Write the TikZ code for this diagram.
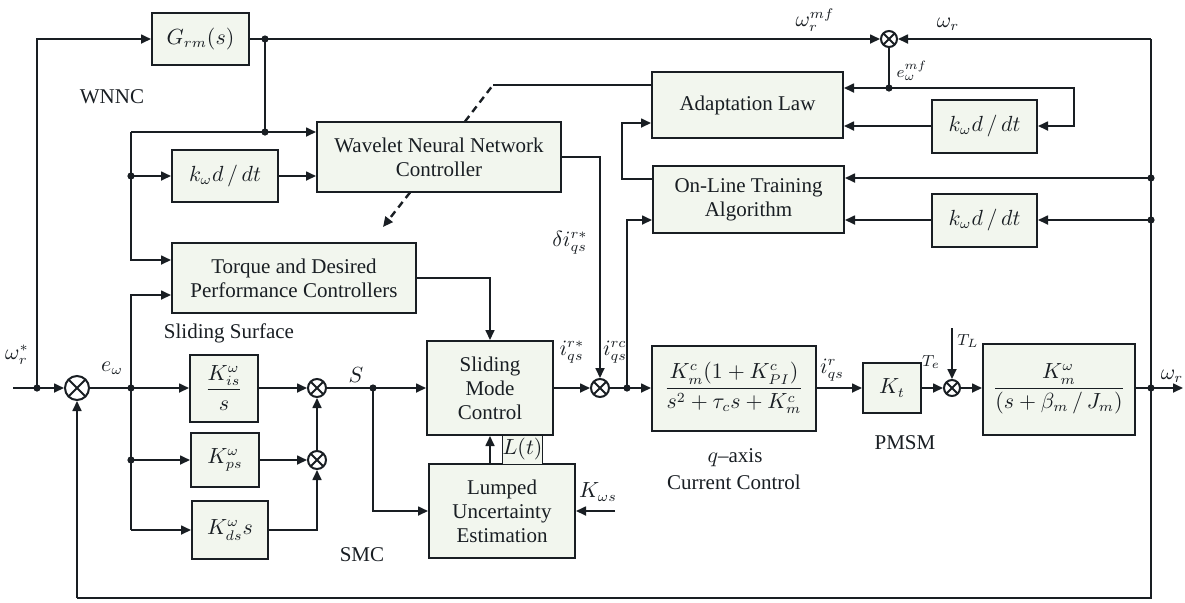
\documentclass[tikz,border=0pt]{standalone}
\usepackage{amsmath}
\usepackage{fontspec}
\setmainfont{Liberation Serif}
\usetikzlibrary{arrows.meta}
\definecolor{boxfill}{RGB}{242,246,238}
\definecolor{ink}{RGB}{25,30,35}
\begin{document}
\begin{tikzpicture}[x=0.5pt,y=-0.5pt, line join=miter,
  every node/.style={font=\fontsize{10.5}{12}\selectfont, text=ink},
  blk/.style={draw=ink, fill=boxfill, line width=1pt, inner sep=0pt, align=center},
  sumc/.style={circle, draw=ink, fill=white, line width=1pt, inner sep=0pt, minimum size=9pt,
    path picture={\draw[ink, line width=0.9pt] (path picture bounding box.north west) -- (path picture bounding box.south east)
      (path picture bounding box.north east) -- (path picture bounding box.south west);}},
  conn/.style={draw=ink, line width=0.85pt},
  arr/.style={conn, -{Triangle[length=5pt,width=4.5pt]}},
  dashln/.style={line width=1.2pt, dash pattern=on 3.5pt off 2.5pt},
  dot/.style={circle, fill=ink, inner sep=0pt, minimum size=3.6pt},
  lbl/.style={inner sep=0pt},
  small/.style={inner sep=0pt, font=\fontsize{8}{9}\selectfont}
]
\useasboundingbox (0,0) rectangle (1185,602);

% blocks
\node[blk, minimum width=48.5pt, minimum height=26pt] (grm) at (200.5,39) {$G_{rm}(s)$};
\node[blk, minimum width=122pt, minimum height=35pt] (wnn) at (439,157) {Wavelet Neural Network\\Controller};
\node[blk, minimum width=53pt, minimum height=26pt] (kd1) at (225,176) {$k_\omega d\,/\,dt$};
\node[blk, minimum width=122pt, minimum height=35pt] (tq) at (294,278) {Torque and Desired\\Performance Controllers};
\node[blk, minimum width=95.5pt, minimum height=33pt] (adp) at (747.5,105) {Adaptation Law};
\node[blk, minimum width=52.5pt, minimum height=26.5pt] (kd2) at (984.5,126) {$k_\omega d\,/\,dt$};
\node[blk, minimum width=95.5pt, minimum height=33.5pt] (olt) at (748.5,199.5) {On-Line Training\\Algorithm};
\node[blk, minimum width=52.5pt, minimum height=26.5pt] (kd3) at (984.5,220) {$k_\omega d\,/\,dt$};
\node[blk, minimum width=34pt, minimum height=33.5pt] (kis) at (224,388) {$\dfrac{K_{is}^{\omega}}{s}$};
\node[blk, minimum width=34pt, minimum height=27pt] (kps) at (225,460) {$K_{ps}^{\omega}$};
\node[blk, minimum width=38pt, minimum height=29pt] (kds) at (230,530) {$K_{ds}^{\omega}s$};
\node[blk, minimum width=63pt, minimum height=47pt] (smc) at (490,388) {Sliding\\Mode\\Control};
\node[blk, minimum width=73pt, minimum height=47pt] (lue) at (502,511) {Lumped\\Uncertainty\\Estimation};
\node[draw=ink, fill=boxfill, line width=0.5pt, inner sep=0pt, minimum width=17.5pt, minimum height=14.5pt] (lt) at (522.5,449.5) {$L(t)$};
\node[blk, minimum width=82pt, minimum height=42.5pt] (cur) at (734,388) {$\dfrac{K_m^c(1+K_{PI}^c)}{s^2+\tau_c s+K_m^c}$};
\node[blk, minimum width=29pt, minimum height=25pt] (kt) at (892,388) {$K_t$};
\node[blk, minimum width=76pt, minimum height=45.5pt] (pl) at (1059,389) {$\dfrac{K_m^{\omega}}{(s+\beta_m\,/\,J_m)}$};

% summing junctions
\node[sumc, minimum size=12pt] (s0) at (77,388) {};
\node[sumc] (s1) at (317,388) {};
\node[sumc] (s2) at (317,460) {};
\node[sumc] (s3) at (600,388) {};
\node[sumc, minimum size=8pt] (s4) at (952,388) {};
\node[sumc, minimum size=8pt] (st) at (889,39) {};

% junction dots
\node[dot] (jg) at (265,39) {};
\node[dot] (jw) at (265,132) {};
\node[dot] (jk) at (131,176) {};
\node[dot] (d0) at (37,388) {};
\node[dot] (de) at (131,388) {};
\node[dot] (dp) at (131,460) {};
\node[dot] (dS) at (373,388) {};
\node[dot] (dI) at (627,388) {};
\node[dot] (dE) at (889,88) {};
\node[dot] (d1) at (1151,178) {};
\node[dot] (d2) at (1151,220) {};
\node[dot] (dO) at (1151,388) {};

% helper coordinates
\coordinate (in0) at (13,388);
\coordinate (tl) at (131,132);
\coordinate (tt) at (131,260);
\coordinate (tb) at (131,295);
\coordinate (dd) at (131,530);
\coordinate (sl) at (373,511);
\coordinate (kw) at (615,511);
\coordinate (ol) at (627,220);
\coordinate (oa) at (622,179);
\coordinate (ob) at (622,123);
\coordinate (ds1) at (465,121.5);
\coordinate (ds2) at (493,85);
\coordinate (dw1) at (410,192.5);
\coordinate (dw2) at (383,227);
\coordinate (tr) at (1151,39);
\coordinate (br) at (1151,598);
\coordinate (bl) at (77,598);
\coordinate (er) at (1074,88);
\coordinate (er2) at (1074,126);
\coordinate (tlz) at (952,328);
\coordinate (out) at (1183,388);

% connectors
\draw[arr] (in0) -- (s0.west);
\draw[arr] (d0.center) |- (grm.west);
\draw[arr] (grm.east) -- (st.west);
\draw[conn] (jg.center) -- (jw.center);
\draw[arr] (tl) -- (tl -| wnn.west);
\draw[arr] (tl) -- (tt) -- (tt -| tq.west);
\draw[arr] (jk.center) -- (kd1.west);
\draw[arr] (kd1.east) -- (kd1.east -| wnn.west);
\draw[conn] (s0.east) -- (de.center);
\draw[arr] (de.center) -- (kis.west);
\draw[arr] (de.center) -- (tb) -- (tb -| tq.west);
\draw[conn] (de.center) -- (dd);
\draw[arr] (dd) -- (dd -| kds.west);
\draw[arr] (dp.center) -- (kps.west);
\draw[arr] (kis.east) -- (s1.west);
\draw[arr] (kps.east) -- (s2.west);
\draw[arr] (kds.east) -| (s2.south);
\draw[arr] (s2.north) -- (s1.south);
\draw[conn] (s1.east) -- (dS.center);
\draw[arr] (dS.center) -- (smc.west);
\draw[arr] (dS.center) -- (sl) -- (lue.west);
\draw[arr] (smc.south |- lue.north) -- (smc.south);
\draw[arr] (kw) -- (lue.east);
\draw[arr] (tq.east) -| (smc.north);
\draw[arr] (smc.east) -- (s3.west);
\draw[arr] (wnn.east) -| (s3.north);
\draw[conn] (s3.east) -- (dI.center);
\draw[arr] (dI.center) -- (cur.west);
\draw[arr] (dI.center) -- (ol) -- (ol -| olt.west);
\draw[arr] (oa -| olt.west) -- (oa) -- (ob) -- (ob -| adp.west);
\draw[conn, dashln] (ds1) -- (ds2);
\draw[conn] (ds2) -- (ds2 -| adp.west);
\draw[arr, dashln] (dw1) -- (dw2);
\draw[arr] (tr) -- (st.east);
\draw[conn] (st.south) -- (dE.center);
\draw[arr] (dE.center) -- (dE.center -| adp.east);
\draw[arr] (dE.center) -- (er) -- (er2) -- (kd2.east);
\draw[arr] (kd2.west) -- (kd2.west -| adp.east);
\draw[conn] (tr) -- (br) -- (bl);
\draw[arr] (bl) -- (s0.south);
\draw[arr] (d1.center) -- (d1.center -| olt.east);
\draw[arr] (d2.center) -- (kd3.east);
\draw[arr] (kd3.west) -- (kd3.west -| olt.east);
\draw[arr] (cur.east) -- (kt.west);
\draw[arr] (kt.east) -- (s4.west);
\draw[arr] (s4.east) -- (s4.east -| pl.west);
\draw[arr] (tlz) -- (s4.north);
\draw[conn] (pl.east |- dO) -- (dO.center);
\draw[arr] (dO.center) -- (out);

% labels
\node[lbl] (lwr) at (17,355) {$\omega_r^{*}$};
\node[lbl] (lew) at (112,368) {$e_\omega$};
\node[lbl] (lS) at (356,375) {$S$};
\node[lbl] (lwnnc) at (112,97) {WNNC};
\node[lbl] (lss) at (229,333) {Sliding Surface};
\node[lbl] (lsmc) at (362,555) {SMC};
\node[lbl] (ldi) at (570,243) {$\delta i_{qs}^{r*}$};
\node[lbl] (lir) at (572,352) {$i_{qs}^{r*}$};
\node[lbl] (lirc) at (615,352) {$i_{qs}^{rc}$};
\node[lbl] (liqr) at (832,370) {$i_{qs}^{r}$};
\node[small] (lte) at (931,362) {$T_e$};
\node[small] (ltl) at (968,341) {$T_L$};
\node[lbl] (lqa) at (735,458) {$q$--axis};
\node[lbl] (lcc) at (734,482) {Current Control};
\node[lbl] (lpm) at (905,443) {PMSM};
\node[lbl] (lkw) at (598,492) {$K_{\omega s}$};
\node[lbl] (lwo) at (1172,376) {$\omega_r$};
\node[lbl] (lwm) at (815,20) {$\omega_r^{mf}$};
\node[lbl] (lwr2) at (948,24) {$\omega_r$};
\node[small] (lem) at (912,71) {$e_\omega^{mf}$};
\end{tikzpicture}
\end{document}
